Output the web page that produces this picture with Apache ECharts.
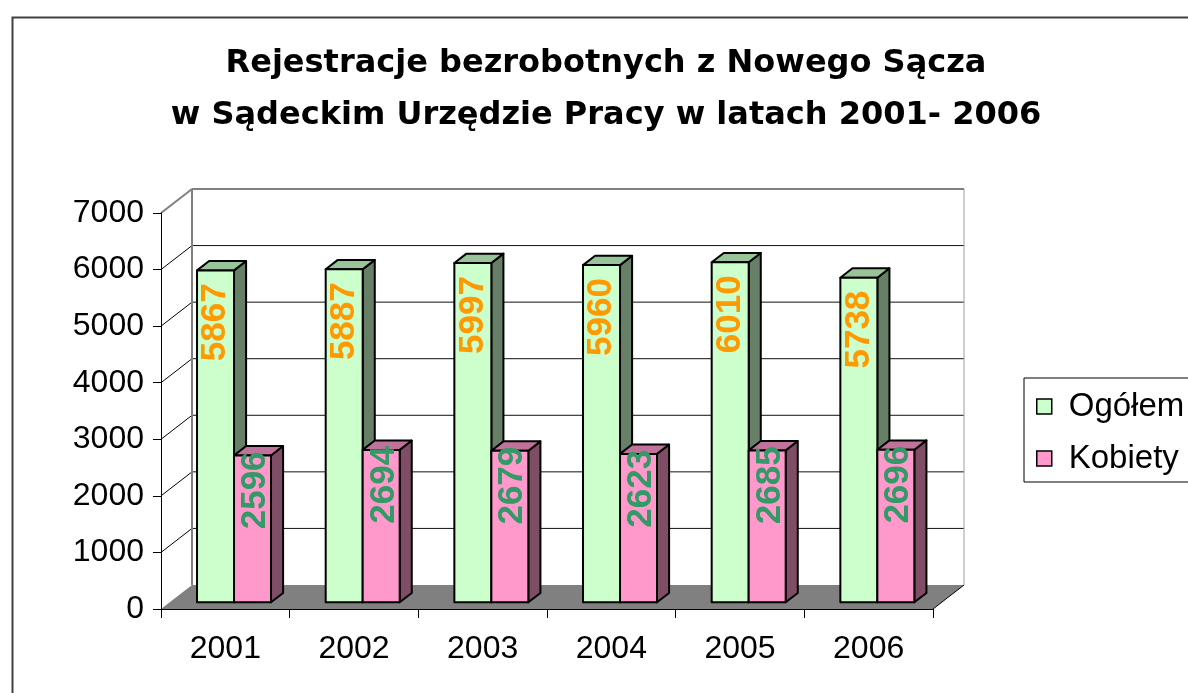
<!DOCTYPE html>
<html>
<head>
<meta charset="utf-8">
<script src="https://cdn.jsdelivr.net/npm/echarts@6/dist/echarts.min.js"></script>
<style>
  html, body { margin: 0; padding: 0; background: #fff; }
  #chart { width: 1188px; height: 693px; }
</style>
</head>
<body>
<div id="chart"></div>
<script>
// dane
var years = ['2001', '2002', '2003', '2004', '2005', '2006'];
var ogolem = [5867, 5887, 5997, 5960, 6010, 5738];
var kobiety = [2596, 2694, 2679, 2623, 2685, 2696];
var yTicks = [0, 1000, 2000, 3000, 4000, 5000, 6000, 7000];

var FONT = '"Liberation Sans", Arial, sans-serif';
var DEPTH_X = 31, DEPTH_Y = -24;     // glebokosc scian
var BAR_OFF = 0.28, BAR_DEPTH = 0.39; // polozenie slupka w glebi
var GROUP = 0.575;                   // szerokosc grupy slupkow / kategoria

// sciany, podloga i linie siatki
function wallItem(params, api) {
    var cs = params.coordSys;
    var v = api.value(1);
    var y = api.coord([0, v])[1];
    var xl = cs.x, xr = cs.x + cs.width, yb = cs.y + cs.height;
    var kids = [];
    if (v === 0) {
        kids.push({
            type: 'polygon',
            shape: { points: [[xl, yb], [xr, yb], [xr + DEPTH_X, yb + DEPTH_Y], [xl + DEPTH_X, yb + DEPTH_Y]] },
            style: { fill: '#808080', stroke: null }
        });
        kids.push({
            type: 'line',
            shape: { x1: xr, y1: yb, x2: xr + DEPTH_X, y2: yb + DEPTH_Y },
            style: { stroke: '#000', lineWidth: 1 }
        });
    } else if (v === yTicks[yTicks.length - 1]) {
        kids.push({
            type: 'line',
            shape: { x1: xl + DEPTH_X, y1: y + DEPTH_Y, x2: xl + DEPTH_X, y2: yb + DEPTH_Y },
            style: { stroke: '#808080', lineWidth: 2 }
        });
        kids.push({
            type: 'line',
            shape: { x1: xr + DEPTH_X, y1: y + DEPTH_Y, x2: xr + DEPTH_X, y2: yb + DEPTH_Y },
            style: { stroke: '#a0a0a0', lineWidth: 1 }
        });
        kids.push({
            type: 'line',
            shape: { x1: xl, y1: y, x2: xl + DEPTH_X, y2: y + DEPTH_Y },
            style: { stroke: '#808080', lineWidth: 2 }
        });
        kids.push({
            type: 'line',
            shape: { x1: xl + DEPTH_X, y1: y + DEPTH_Y, x2: xr + DEPTH_X, y2: y + DEPTH_Y },
            style: { stroke: '#808080', lineWidth: 2 }
        });
    } else {
        kids.push({
            type: 'line',
            shape: { x1: xl, y1: y, x2: xl + DEPTH_X, y2: y + DEPTH_Y },
            style: { stroke: '#000', lineWidth: 1 }
        });
        kids.push({
            type: 'line',
            shape: { x1: xl + DEPTH_X, y1: y + DEPTH_Y, x2: xr + DEPTH_X, y2: y + DEPTH_Y },
            style: { stroke: '#111', lineWidth: 1 }
        });
    }
    return { type: 'group', children: kids };
}

// slupek 3D
function barItem(pos, front, topC, side, labelColor, labelEnd, labelShift) {
    return function (params, api) {
        var cat = api.value(0), val = api.value(1);
        var top = api.coord([cat, val]);
        var base = api.coord([cat, 0]);
        var band = api.size([1, 0])[0];
        var w = band * GROUP / 2;
        var ox = DEPTH_X * BAR_OFF, oy = DEPTH_Y * BAR_OFF;
        var dx = DEPTH_X * BAR_DEPTH, dy = DEPTH_Y * BAR_DEPTH;
        var x0 = top[0] - band * GROUP / 2 + pos * w + ox;
        var yt = top[1] + oy, yb = base[1] + oy;
        var line = { stroke: '#000', lineWidth: 2, lineJoin: 'round' };
        return {
            type: 'group',
            children: [
                { type: 'polygon', shape: { points: [[x0 + w, yt], [x0 + w + dx, yt + dy], [x0 + w + dx, yb + dy], [x0 + w, yb]] },
                  style: Object.assign({ fill: side }, line) },
                { type: 'polygon', shape: { points: [[x0, yt], [x0 + w, yt], [x0 + w + dx, yt + dy], [x0 + dx, yt + dy]] },
                  style: Object.assign({ fill: topC }, line) },
                { type: 'rect', shape: { x: x0, y: yt, width: w, height: yb - yt },
                  style: Object.assign({ fill: front }, line) },
                { type: 'text', x: x0 + w / 2 + labelShift, y: yt + labelEnd, rotation: Math.PI / 2,
                  style: { text: String(val), fill: labelColor, font: 'bold 35px ' + FONT,
                           textAlign: 'right', textVerticalAlign: 'middle',
                           align: 'right', verticalAlign: 'middle' } }
            ]
        };
    };
}

var chart = echarts.init(document.getElementById('chart'));

var option = {
    backgroundColor: '#fff',
    animation: false,
    title: {
        text: 'Rejestracje bezrobotnych z Nowego Sącza\nw Sądeckim Urzędzie Pracy w latach 2001- 2006',
        left: 601,
        top: 33,
        textAlign: 'center',
        textStyle: { fontFamily: '"DejaVu Sans", sans-serif', fontSize: 32, fontWeight: 'bold', color: '#000', lineHeight: 52 }
    },
    legend: {
        orient: 'vertical',
        left: 1024,
        top: 378,
        padding: [12, 12, 7, 12],
        itemGap: 19,
        itemWidth: 15,
        itemHeight: 15,
        icon: 'rect',
        backgroundColor: '#fff',
        borderColor: '#000',
        borderWidth: 1,
        borderRadius: 0,
        textStyle: { fontFamily: FONT, fontSize: 33, color: '#000', padding: [0, 0, 0, 12] },
        data: [
            { name: 'Ogółem', itemStyle: { color: '#CCFFCC', borderColor: '#000', borderWidth: 1.5 } },
            { name: 'Kobiety', itemStyle: { color: '#FF99CC', borderColor: '#000', borderWidth: 1.5 } }
        ]
    },
    grid: { left: 161, top: 213, width: 772, height: 396 },
    xAxis: {
        type: 'category',
        data: years,
        z: 10,
        axisLine: { lineStyle: { color: '#000', width: 1 } },
        axisTick: { show: true, length: 9, lineStyle: { color: '#000' } },
        axisLabel: { fontFamily: FONT, fontSize: 32, color: '#000', margin: 24 },
        splitLine: { show: false }
    },
    yAxis: {
        type: 'value',
        min: 0,
        max: 7000,
        interval: 1000,
        z: 10,
        axisLine: { show: true, lineStyle: { color: '#000', width: 1 } },
        axisTick: { show: true, length: 8, lineStyle: { color: '#000' } },
        axisLabel: { fontFamily: FONT, fontSize: 32, color: '#000', margin: 17,
                     formatter: function (v) { return String(v); } },
        splitLine: { show: false }
    },
    graphic: [{
        type: 'rect',
        left: 10, top: 15,
        shape: { width: 1200, height: 700 },
        style: { fill: null, stroke: '#404040', lineWidth: 2 },
        silent: true
    }],
    series: [
        {
            type: 'custom',
            name: 'sciany',
            z: 1,
            silent: true,
            renderItem: wallItem,
            data: yTicks.map(function (v) { return [0, v]; }),
            encode: { x: 0, y: 1 }
        },
        {
            type: 'custom',
            name: 'Ogółem',
            z: 2,
            itemStyle: { color: '#CCFFCC' },
            renderItem: barItem(0, '#CCFFCC', '#99C499', '#677F67', '#FF9900', 13, 0),
            data: ogolem.map(function (v, i) { return [i, v]; }),
            encode: { x: 0, y: 1 }
        },
        {
            type: 'custom',
            name: 'Kobiety',
            z: 2,
            itemStyle: { color: '#FF99CC' },
            renderItem: barItem(1, '#FF99CC', '#C0729A', '#804D66', '#339966', -4, 3),
            data: kobiety.map(function (v, i) { return [i, v]; }),
            encode: { x: 0, y: 1 }
        }
    ]
};

chart.setOption(option);
</script>
</body>
</html>
